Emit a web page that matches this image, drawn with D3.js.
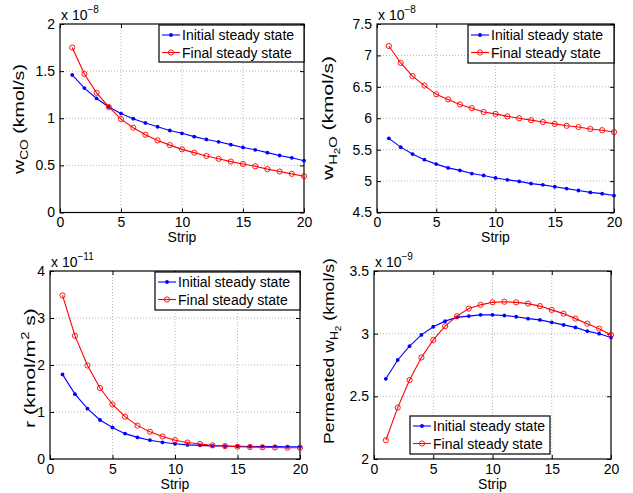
<!DOCTYPE html>
<html>
<head>
<meta charset="utf-8">
<script src="https://cdn.jsdelivr.net/npm/d3@7"></script>
<style>
  body { margin: 0; background: #fff; }
  svg { font-family: 'Liberation Sans', Arial, Helvetica, sans-serif; }
</style>
</head>
<body>
<div id="chart"></div>
<script>
const strips = d3.range(1, 21)

// w_CO, units of 1e-8 kmol/s
const coInitial = [1.46, 1.32, 1.21, 1.12, 1.05, 0.995, 0.95, 0.91, 0.87, 0.84, 0.805, 0.775, 0.75, 0.72, 0.69, 0.665, 0.635, 0.605, 0.58, 0.55]
const coFinal = [1.75, 1.47, 1.27, 1.12, 0.99, 0.90, 0.825, 0.765, 0.715, 0.67, 0.635, 0.60, 0.57, 0.54, 0.515, 0.49, 0.46, 0.435, 0.41, 0.385]

// w_H2O, units of 1e-8 kmol/s
const h2oInitial = [5.68, 5.54, 5.43, 5.34, 5.27, 5.21, 5.17, 5.12, 5.09, 5.05, 5.02, 4.995, 4.96, 4.94, 4.91, 4.88, 4.85, 4.82, 4.80, 4.77]
const h2oFinal = [7.15, 6.88, 6.67, 6.52, 6.38, 6.30, 6.22, 6.16, 6.10, 6.07, 6.03, 6.00, 5.97, 5.94, 5.91, 5.88, 5.86, 5.83, 5.81, 5.78]

// r, units of 1e-11 kmol/m2 s
const rInitial = [1.80, 1.38, 1.07, 0.83, 0.67, 0.54, 0.46, 0.40, 0.355, 0.325, 0.30, 0.29, 0.28, 0.275, 0.27, 0.265, 0.265, 0.265, 0.26, 0.26]
const rFinal = [3.48, 2.62, 1.99, 1.51, 1.16, 0.90, 0.71, 0.58, 0.48, 0.40, 0.35, 0.32, 0.29, 0.275, 0.26, 0.255, 0.25, 0.245, 0.24, 0.24]

// permeated w_H2, units of 1e-9 kmol/s
const h2Initial = [2.64, 2.79, 2.90, 2.99, 3.055, 3.10, 3.13, 3.14, 3.15, 3.15, 3.145, 3.135, 3.12, 3.11, 3.09, 3.07, 3.05, 3.02, 3.00, 2.97]
const h2Final = [2.15, 2.41, 2.63, 2.81, 2.95, 3.06, 3.14, 3.20, 3.23, 3.25, 3.255, 3.25, 3.24, 3.22, 3.19, 3.16, 3.12, 3.08, 3.04, 2.99]

const xTicks = [0, 5, 10, 15, 20]
const seriesNames = ['Initial steady state', 'Final steady state']

const svg = d3.select('#chart')
  .append('svg')
  .attr('width', 633)
  .attr('height', 493)

const panels = [
  {
    box: { left: 60, right: 304, top: 24, bottom: 212.5 },
    yDomain: [0, 2], yTicks: [0, 0.5, 1, 1.5, 2], exp: '−8',
    initial: coInitial, final: coFinal,
    legend: { x: 159, y: 25, w: 145, h: 37 },
    ylab: { x: 24, cy: 119, len: 110 },
    ylabel: [['w', 0], ['CO', 1], [' (kmol/s)', 0]]
  },
  {
    box: { left: 377, right: 614, top: 24, bottom: 212.5 },
    yDomain: [4.5, 7.5], yTicks: [4.5, 5, 5.5, 6, 6.5, 7, 7.5], exp: '−8',
    initial: h2oInitial, final: h2oFinal,
    legend: { x: 468, y: 25, w: 146, h: 38 },
    ylab: { x: 333, cy: 118, len: 124 },
    ylabel: [['w', 0], ['H', 1], ['2', 2], ['O', 1], [' (kmol/s)', 0]]
  },
  {
    box: { left: 50, right: 300, top: 271, bottom: 459 },
    yDomain: [0, 4], yTicks: [0, 1, 2, 3, 4], exp: '−11',
    initial: rInitial, final: rFinal,
    legend: { x: 155, y: 272, w: 145, h: 38 },
    ylab: { x: 35, cy: 368, len: 120 },
    ylabel: [['r (kmol/m', 0], ['2', -1], [' s)', 0]]
  },
  {
    box: { left: 374, right: 611, top: 271, bottom: 459 },
    yDomain: [2, 3.5], yTicks: [2, 2.5, 3, 3.5], exp: '−9',
    initial: h2Initial, final: h2Final,
    legend: { x: 410, y: 416, w: 140, h: 38 },
    ylab: { x: 334, cy: 351, len: 186 },
    ylabel: [['Permeated w', 0], ['H', 1], ['2', 2], [' (kmol/s)', 0]]
  }
]

panels.forEach(drawPanel)

function drawPanel (p) {
  const b = p.box
  const x = d3.scaleLinear().domain([0, 20]).range([b.left, b.right])
  const y = d3.scaleLinear().domain(p.yDomain).range([b.bottom, b.top])
  const g = svg.append('g')

  // grid
  g.selectAll('.vgrid')
    .data(xTicks.slice(1, -1))
    .enter()
    .append('line')
    .attr('x1', d => x(d)).attr('x2', d => x(d))
    .attr('y1', b.top).attr('y2', b.bottom)
    .attr('stroke', '#b5b5b5')
    .attr('stroke-dasharray', '1,2')
  g.selectAll('.hgrid')
    .data(p.yTicks.slice(1, -1))
    .enter()
    .append('line')
    .attr('x1', b.left).attr('x2', b.right)
    .attr('y1', d => y(d)).attr('y2', d => y(d))
    .attr('stroke', '#b5b5b5')
    .attr('stroke-dasharray', '1,2')

  // axes, ticks pointing inward
  const fmt = d => String(d)
  g.append('g')
    .attr('transform', 'translate(0,' + b.bottom + ')')
    .call(d3.axisBottom(x).tickValues(xTicks).tickSizeInner(-4).tickSizeOuter(0).tickPadding(5).tickFormat(fmt))
  g.append('g')
    .attr('transform', 'translate(0,' + b.top + ')')
    .call(d3.axisTop(x).tickValues(xTicks).tickSizeInner(-4).tickSizeOuter(0).tickFormat(''))
  g.append('g')
    .attr('transform', 'translate(' + b.left + ',0)')
    .call(d3.axisLeft(y).tickValues(p.yTicks).tickSizeInner(-4).tickSizeOuter(0).tickPadding(5).tickFormat(fmt))
  g.append('g')
    .attr('transform', 'translate(' + b.right + ',0)')
    .call(d3.axisRight(y).tickValues(p.yTicks).tickSizeInner(-4).tickSizeOuter(0).tickFormat(''))
  g.selectAll('.domain').remove()
  g.selectAll('.tick line').attr('stroke', '#000')
  g.selectAll('.tick text')
    .attr('font-size', 14)
    .attr('fill', '#000')
    .attr('font-family', "'Liberation Sans', Arial, sans-serif")

  g.append('rect')
    .attr('x', b.left).attr('y', b.top)
    .attr('width', b.right - b.left).attr('height', b.bottom - b.top)
    .attr('fill', 'none')
    .attr('stroke', '#000')
    .attr('stroke-width', 1.2)

  // exponent
  const ex = g.append('text')
    .attr('x', b.left + 1)
    .attr('y', b.top - 4)
    .attr('font-size', 14)
  ex.append('tspan').text('x 10')
  ex.append('tspan').attr('dy', -7).attr('font-size', 10).text(p.exp)

  // x label
  g.append('text')
    .attr('x', (b.left + b.right) / 2)
    .attr('y', b.bottom + 29.5)
    .attr('text-anchor', 'middle')
    .attr('font-size', 14)
    .text('Strip')

  // y label, stretched along its baseline like the exported figure
  const ylg = g.append('g')
  const yl = ylg.append('text')
    .attr('text-anchor', 'middle')
    .attr('font-size', 15)
  const shiftOf = lv => lv === 1 ? 4 : lv === 2 ? 7 : lv === -1 ? -6 : 0
  let level = 0
  p.ylabel.forEach(([t, lv]) => {
    yl.append('tspan')
      .attr('dy', shiftOf(lv) - shiftOf(level))
      .attr('font-size', lv === 0 ? 15 : lv === 2 ? 8.5 : 10.5)
      .text(t)
    level = lv
  })
  const w = yl.node().getComputedTextLength()
  const sx = p.ylab.len / w
  ylg.attr('transform', 'translate(' + p.ylab.x + ',' + p.ylab.cy + ') rotate(-90) scale(' + sx + ',1)')

  const line = d3.line()
    .x((d, i) => x(strips[i]))
    .y(d => y(d))

  // lines + markers
  g.append('path')
    .datum(p.initial)
    .attr('d', line)
    .attr('fill', 'none')
    .attr('stroke', '#0000ff')
    .attr('stroke-width', 1.1)
  g.selectAll('.dot-i')
    .data(p.initial)
    .enter()
    .append('circle')
    .attr('cx', (d, i) => x(strips[i]))
    .attr('cy', d => y(d))
    .attr('r', 1.9)
    .attr('fill', '#0000ff')

  g.append('path')
    .datum(p.final)
    .attr('d', line)
    .attr('fill', 'none')
    .attr('stroke', '#ff0000')
    .attr('stroke-width', 1.1)
  g.selectAll('.dot-f')
    .data(p.final)
    .enter()
    .append('circle')
    .attr('cx', (d, i) => x(strips[i]))
    .attr('cy', d => y(d))
    .attr('r', 2.6)
    .attr('fill', 'none')
    .attr('stroke', '#ff0000')
    .attr('stroke-width', 0.9)

  // legend
  const L = p.legend
  const lg = g.append('g').attr('transform', 'translate(' + L.x + ',' + L.y + ')')
  lg.append('rect')
    .attr('width', L.w).attr('height', L.h)
    .attr('fill', '#fff')
    .attr('stroke', '#000')
    .attr('stroke-width', 1.2)
  seriesNames.forEach((name, i) => {
    const cy = 10 + i * 17.5
    const color = i === 0 ? '#0000ff' : '#ff0000'
    lg.append('line')
      .attr('x1', 3).attr('x2', 21)
      .attr('y1', cy).attr('y2', cy)
      .attr('stroke', color)
      .attr('stroke-width', 1.1)
    lg.append('circle')
      .attr('cx', 12).attr('cy', cy)
      .attr('r', i === 0 ? 1.9 : 2.6)
      .attr('fill', i === 0 ? color : 'none')
      .attr('stroke', i === 0 ? 'none' : color)
      .attr('stroke-width', 0.9)
    lg.append('text')
      .attr('x', 23).attr('y', cy + 5)
      .attr('font-size', 14)
      .text(name)
  })
}
</script>
</body>
</html>
